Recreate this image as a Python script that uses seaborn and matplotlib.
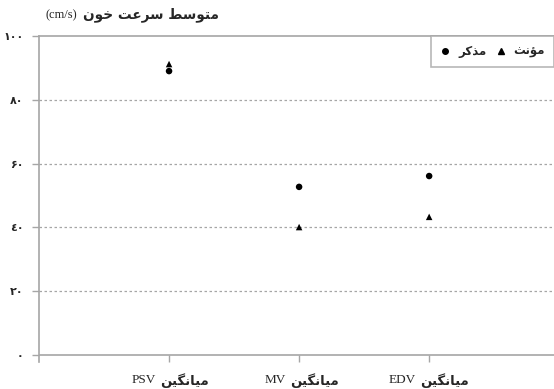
import matplotlib
matplotlib.use("Agg")
import matplotlib.pyplot as plt
import seaborn as sns
import pandas as pd

# %% data
categories = ["میانگین PSV", "میانگین MV", "میانگین EDV"]
male = [89.0, 52.7, 56.1]      # مذکر
female = [91.2, 40.1, 43.3]    # مؤنث
yticks = [0, 20, 40, 60, 80, 100]
ytick_labels = ["۰", "۲۰", "٤۰", "۶۰", "۸۰", "۱۰۰"]

# %% minimal Persian shaping (matplotlib has no bidi / shaping)
FORMS = {
    "ا": ("\uFE8D", "\uFE8E"), "ت": ("\uFE95", "\uFE96", "\uFE97", "\uFE98"),
    "ث": ("\uFE99", "\uFE9A", "\uFE9B", "\uFE9C"), "خ": ("\uFEA5", "\uFEA6", "\uFEA7", "\uFEA8"),
    "ذ": ("\uFEAB", "\uFEAC"), "ر": ("\uFEAD", "\uFEAE"),
    "س": ("\uFEB1", "\uFEB2", "\uFEB3", "\uFEB4"), "ط": ("\uFEC1", "\uFEC2", "\uFEC3", "\uFEC4"),
    "ع": ("\uFEC9", "\uFECA", "\uFECB", "\uFECC"), "م": ("\uFEE1", "\uFEE2", "\uFEE3", "\uFEE4"),
    "ن": ("\uFEE5", "\uFEE6", "\uFEE7", "\uFEE8"), "و": ("\uFEED", "\uFEEE"),
    "ؤ": ("\uFE85", "\uFE86"), "ک": ("\uFB8E", "\uFB8F", "\uFB90", "\uFB91"),
    "گ": ("\uFB92", "\uFB93", "\uFB94", "\uFB95"), "ی": ("\uFBFC", "\uFBFD", "\uFBFE", "\uFBFF"),
}


def fa(s):
    out = []
    for i, ch in enumerate(s):
        if ch not in FORMS:
            out.append(ch)
            continue
        prev = s[i - 1] if i > 0 else ""
        nxt = s[i + 1] if i + 1 < len(s) else ""
        jp = prev in FORMS and len(FORMS[prev]) == 4
        jn = len(FORMS[ch]) == 4 and nxt in FORMS
        f = FORMS[ch]
        if jp and jn:
            out.append(f[3])
        elif jp:
            out.append(f[1])
        elif jn:
            out.append(f[2])
        else:
            out.append(f[0])
    return "".join(out)[::-1]


df = pd.DataFrame({
    "cat": categories * 2,
    "value": male + female,
    "sex": ["مذکر"] * 3 + ["مؤنث"] * 3,
})

sns.set_style("white")
plt.rcParams["font.family"] = ["DejaVu Sans"]

fig = plt.figure(figsize=(5.54, 3.89), dpi=100)
ax = fig.add_axes([39 / 554, 1 - 362 / 389, 1 - 39 / 554, (362 - 36) / 389])

sns.scatterplot(data=df, x="cat", y="value", style="sex",
                markers={"مذکر": "o", "مؤنث": "^"}, color="black",
                s=22, edgecolor="black", linewidth=0, ax=ax, legend=False)

grey = "#a6a6a6"
ax.set_xlim(-1, 2.96)
ax.set_ylim(-2.2, 100)
ax.set_yticks(yticks)
ax.set_yticklabels(ytick_labels, fontweight="bold", fontsize=8)
ax.set_xticks(range(len(categories)))
ax.set_xticklabels([""] * len(categories))
ax.set_xlabel("")
ax.set_ylabel("")

# category labels: bold Persian word + regular Latin abbreviation
for i, c in enumerate(categories):
    word, latin = c.split(" ")
    ax.annotate(fa(word), xy=(i, 0), xycoords=("data", "axes fraction"),
                xytext=(-9, -19), textcoords="offset pixels", ha="left", va="center",
                fontsize=9.5, fontweight="bold")
    ax.annotate(latin, xy=(i, 0), xycoords=("data", "axes fraction"),
                xytext=(-13, -18), textcoords="offset pixels", ha="right", va="center",
                fontsize=9.5, family="Liberation Serif")

for y in yticks[1:-1]:
    ax.axhline(y, color=grey, lw=0.9, ls=(0, (2, 2)), zorder=0)
ax.axhline(0, color=grey, lw=1.2, zorder=0)

for side in ["right", "bottom"]:
    ax.spines[side].set_visible(False)
for side in ["left", "top"]:
    ax.spines[side].set_color(grey)
    ax.spines[side].set_linewidth(1.2)

ax.tick_params(axis="y", direction="out", length=5, width=1, color=grey, pad=6, left=True)
ax.tick_params(axis="x", direction="in", length=5, width=1, color=grey, pad=8, bottom=True)

# legend
h_m = plt.Line2D([], [], ls="", marker="o", color="black", markersize=4)
h_f = plt.Line2D([], [], ls="", marker="^", color="black", markersize=4)
leg = ax.legend([h_m, h_f], [fa("مذکر"), fa("مؤنث")], ncol=2, loc="upper right",
                bbox_to_anchor=(1.0, 1.0), borderaxespad=0, frameon=True, fancybox=False,
                prop={"weight": "bold", "size": 8.5}, handletextpad=0.6, columnspacing=0.7,
                handlelength=1.0, borderpad=0.75)
leg.get_frame().set_edgecolor(grey)
leg.get_frame().set_linewidth(1.2)

fig.text(45 / 554, 1 - 15 / 389, "(cm/s)", ha="left", va="center",
         fontsize=9, family="Liberation Serif")
fig.text(83 / 554, 1 - 15 / 389, fa("متوسط سرعت خون"), ha="left", va="center",
         fontsize=9.8, fontweight="bold")

fig.savefig("out.png", dpi=100)
